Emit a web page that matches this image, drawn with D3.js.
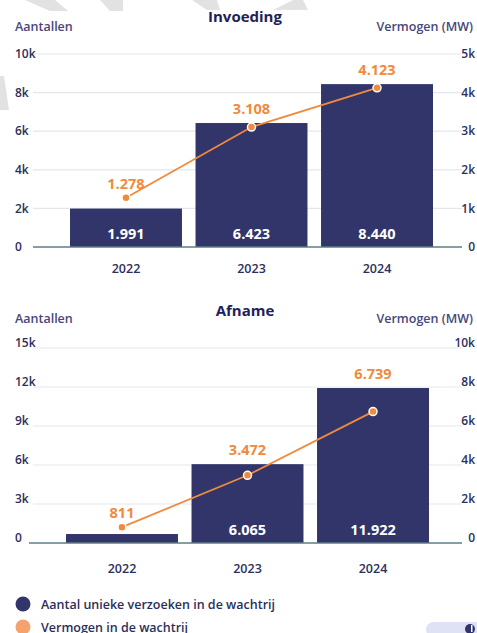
<!DOCTYPE html>
<html>
<head>
<meta charset="utf-8">
<script src="https://cdn.jsdelivr.net/npm/d3@7"></script>
<style>
  html, body { margin: 0; padding: 0; background: #fff; }
  svg { display: block; font-family: "Open Sans", sans-serif; }
</style>
</head>
<body>
<script>
// data
const years = ["2022", "2023", "2024"];
const invoedingAantal = [1991, 6423, 8440];
const invoedingMW = [1278, 3108, 4123];
const afnameAantal = [690, 6065, 11922];   // 2022 bar has no label, estimated
const afnameMW = [811, 3472, 6739];
const invoedingLeftTicks = [0, 2000, 4000, 6000, 8000, 10000];
const invoedingRightTicks = [0, 1000, 2000, 3000, 4000, 5000];
const afnameLeftTicks = [0, 3000, 6000, 9000, 12000, 15000];
const afnameRightTicks = [0, 2000, 4000, 6000, 8000, 10000];
const legendLabels = ["Aantal unieke verzoeken in de wachtrij", "Vermogen in de wachtrij"];

const W = 477, H = 633;
const navy = "#32356a", orange = "#f08a3c", ink = "#2c2f5c";

const nl = d3.formatLocale({decimal: ",", thousands: ".", grouping: [3], currency: ["€", ""]});
const fmt = nl.format(",");
const kfmt = v => v === 0 ? "0" : (v / 1000) + "k";

const svg = d3.select("body").append("svg").attr("width", W).attr("height", H);

// faint grey background shapes cut off at the top
const ghost = [
	[[25, 0], [55, 0], [68, 11], [50, 11]],
	[[100, 0], [123, 0], [123, 11], [110, 11]],
	[[192, 0], [217, 0], [220, 10], [207, 10]],
	[[273, 10], [308, 10], [303, 0], [293, 0]],
	[[0, 76], [4, 76], [9, 110], [0, 110]]
];
svg.selectAll("polygon.ghost").data(ghost).enter().append("polygon")
	.attr("class", "ghost")
	.attr("points", d => d.map(p => p.join(",")).join(" "))
	.attr("fill", "#e2e2e2");

function drawChart(opt) {
	let g = svg.append("g");
	let y = d3.scaleLinear().domain([0, opt.leftTicks[opt.leftTicks.length - 1]]).range(opt.yRange);
	let y2 = d3.scaleLinear().domain([0, opt.rightTicks[opt.rightTicks.length - 1]]).range(opt.yRange);
	let x = d3.scaleBand().domain(years).range(opt.xRange).paddingInner(0.108).paddingOuter(0.263);
	let cx = yr => x(yr) + x.bandwidth() / 2;

	let rows = years.map((yr, i) => ({year: yr, count: opt.counts[i], mw: opt.mw[i]}));

	// titles
	g.append("text").attr("x", 245).attr("y", opt.titleY).attr("text-anchor", "middle")
		.attr("font-size", 15).attr("font-weight", 700).attr("fill", "#1f2259").text(opt.title);
	g.append("text").attr("x", 15).attr("y", opt.axisTitleY)
		.attr("font-size", 12.5).attr("font-weight", 600).attr("fill", "#45487a").text("Aantallen");
	g.append("text").attr("x", 473).attr("y", opt.axisTitleY).attr("text-anchor", "end")
		.attr("font-size", 12.5).attr("font-weight", 600).attr("fill", "#45487a").text("Vermogen (MW)");

	// gridlines
	g.selectAll("line.grid").data(opt.leftTicks.filter(t => t > 0)).enter().append("line")
		.attr("x1", 33).attr("x2", 462)
		.attr("y1", d => y(d)).attr("y2", d => y(d))
		.attr("stroke", "#e3e7eb").attr("stroke-width", 1.2);

	// left tick labels
	g.selectAll("text.lt").data(opt.leftTicks).enter().append("text")
		.attr("x", 15).attr("y", d => y(d)).attr("dy", opt.tickDy)
		.attr("font-size", 12).attr("font-weight", 600).attr("fill", ink).text(kfmt);
	// right tick labels
	g.selectAll("text.rt").data(opt.rightTicks).enter().append("text")
		.attr("x", 475).attr("y", d => y2(d)).attr("dy", opt.tickDy).attr("text-anchor", "end")
		.attr("font-size", 12).attr("font-weight", 600).attr("fill", ink).text(kfmt);

	// bars
	g.selectAll("rect.bar").data(rows).enter().append("rect")
		.attr("x", d => x(d.year)).attr("width", x.bandwidth())
		.attr("y", d => y(d.count)).attr("height", d => y(0) - y(d.count))
		.attr("fill", navy);

	// baseline
	g.append("line").attr("x1", opt.baseX1).attr("x2", 462)
		.attr("y1", y(0)).attr("y2", y(0))
		.attr("stroke", "#5f7c86").attr("stroke-width", 1.5);

	// bar value labels (only where the bar is tall enough)
	g.selectAll("text.bv").data(rows.filter(d => y(0) - y(d.count) > 24)).enter().append("text")
		.attr("x", d => cx(d.year))
		.attr("y", y(0) - 8).attr("text-anchor", "middle")
		.attr("font-size", 14.5).attr("font-weight", 700).attr("fill", "#fff").text(d => fmt(d.count));

	// year labels
	g.selectAll("text.yr").data(years).enter().append("text")
		.attr("x", cx).attr("y", y(0) + opt.yearDy)
		.attr("text-anchor", "middle").attr("font-size", 12.5).attr("font-weight", 600)
		.attr("fill", ink).text(d => d);

	// line series
	let line = d3.line().x(d => cx(d.year)).y(d => y2(d.mw));
	g.append("path").datum(rows).attr("d", line)
		.attr("fill", "none").attr("stroke", orange).attr("stroke-width", 1.8);
	g.selectAll("circle.pt").data(rows).enter().append("circle")
		.attr("cx", d => cx(d.year)).attr("cy", d => y2(d.mw))
		.attr("r", 4).attr("fill", orange).attr("stroke", "#fff").attr("stroke-width", 1.5);
	g.selectAll("text.pv").data(rows).enter().append("text")
		.attr("x", d => cx(d.year))
		.attr("y", d => Math.min(y2(d.mw), y(d.count)) - 9)
		.attr("text-anchor", "middle").attr("font-size", 14.5).attr("font-weight", 700)
		.attr("fill", orange).text(d => fmt(d.mw));
}

drawChart({
	title: "Invoeding", titleY: 22, axisTitleY: 31,
	counts: invoedingAantal, mw: invoedingMW,
	leftTicks: invoedingLeftTicks, rightTicks: invoedingRightTicks,
	yRange: [247, 54], xRange: [37, 466], baseX1: 33,
	tickDy: "0.35em", yearDy: 26
});

drawChart({
	title: "Afname", titleY: 316, axisTitleY: 323,
	counts: afnameAantal, mw: afnameMW,
	leftTicks: afnameLeftTicks, rightTicks: afnameRightTicks,
	yRange: [543, 348], xRange: [33, 462], baseX1: 29,
	tickDy: "-0.1em", yearDy: 30
});

// legend
const legendColors = [navy, "#f4a26e"];
let lg = svg.selectAll("g.legend").data(legendLabels).enter().append("g")
	.attr("transform", (d, i) => "translate(23," + (604 + i * 23) + ")");
lg.append("circle").attr("r", 7.5).attr("fill", (d, i) => legendColors[i]);
lg.append("text").attr("x", 18).attr("y", 4.5)
	.attr("font-size", 12.5).attr("font-weight", 600).attr("fill", ink).text(d => d);

// little toggle widget bottom right
svg.append("rect").attr("x", 426).attr("y", 622).attr("width", 62).attr("height", 15).attr("rx", 7.5)
	.attr("fill", "#dfe1f4");
svg.append("circle").attr("cx", 470).attr("cy", 629).attr("r", 5).attr("fill", navy);
svg.append("rect").attr("x", 471).attr("y", 625).attr("width", 1.5).attr("height", 7).attr("fill", "#fff");
</script>
</body>
</html>
